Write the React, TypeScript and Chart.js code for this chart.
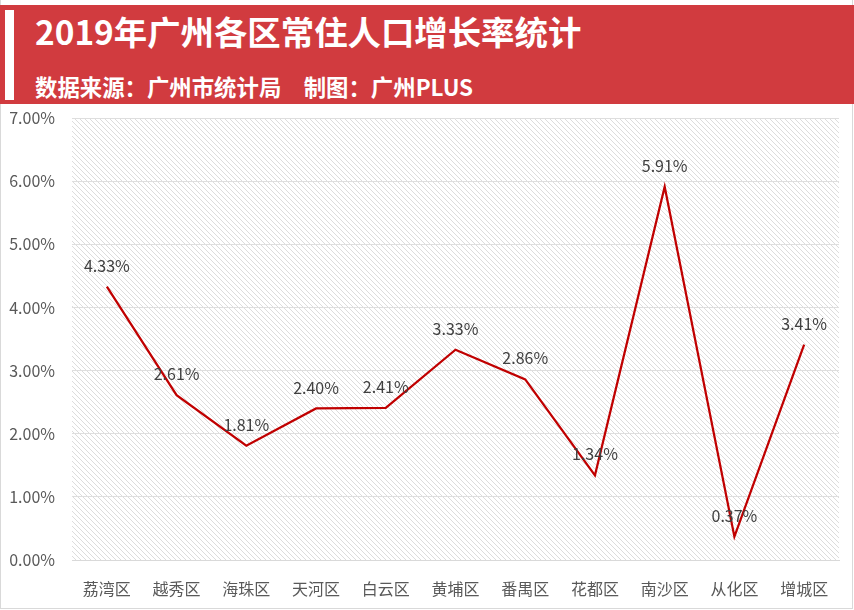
import React, { useEffect, useRef } from 'react';
import { Chart, registerables } from 'chart.js';

Chart.register(...registerables);

const districts = ['荔湾区', '越秀区', '海珠区', '天河区', '白云区', '黄埔区', '番禺区', '花都区', '南沙区', '从化区', '增城区'];
const growthRates = [4.33, 2.61, 1.81, 2.40, 2.41, 3.33, 2.86, 1.34, 5.91, 0.37, 3.41];
const yTickValues = [0, 1, 2, 3, 4, 5, 6, 7];
const titleText = '2019年广州各区常住人口增长率统计';
const subtitleText = '数据来源：广州市统计局　制图：广州PLUS';

const FONT = '"Noto Sans CJK SC", "Noto Sans", sans-serif';

const hatchPlugin = {
  id: 'hatchBg',
  beforeDraw(chart: any) {
    const { ctx, chartArea: a } = chart;
    const tile = document.createElement('canvas');
    tile.width = 5;
    tile.height = 5;
    const t = tile.getContext('2d')!;
    t.fillStyle = '#dcdcdc';
    for (let i = 0; i < 5; i++) t.fillRect(i, i, 1, 1);
    const pat = ctx.createPattern(tile, 'repeat');
    ctx.save();
    ctx.fillStyle = pat;
    ctx.fillRect(a.left, a.top, a.right - a.left, a.bottom - a.top);
    ctx.restore();
  },
};

const labelPlugin = {
  id: 'valueLabels',
  afterDatasetsDraw(chart: any) {
    const { ctx } = chart;
    const meta = chart.getDatasetMeta(0);
    ctx.save();
    ctx.font = `16px ${FONT}`;
    ctx.fillStyle = '#404040';
    ctx.textAlign = 'center';
    ctx.textBaseline = 'middle';
    meta.data.forEach((el: any, i: number) => {
      ctx.fillText(growthRates[i].toFixed(2) + '%', el.x, el.y - 21);
    });
    ctx.restore();
  },
};

export default function App() {
  const ref = useRef<HTMLCanvasElement>(null);

  useEffect(() => {
    const canvas = ref.current!;
    const chart = new Chart(canvas, {
      type: 'line',
      data: {
        labels: districts,
        datasets: [
          {
            data: growthRates,
            borderColor: '#C00000',
            borderWidth: 2.25,
            pointRadius: 0,
            tension: 0,
            fill: false,
          },
        ],
      },
      options: {
        animation: false,
        responsive: false,
        devicePixelRatio: 1,
        layout: { padding: { top: 14, right: 15, left: 0, bottom: 0 } },
        plugins: { legend: { display: false }, tooltip: { enabled: false } },
        scales: {
          x: {
            offset: true,
            grid: { display: false, drawTicks: false },
            border: { display: true, color: '#D9D9D9', width: 1 },
            ticks: { color: '#595959', font: { size: 16, family: FONT }, padding: 19, maxRotation: 0, autoSkip: false },
            afterFit: (s: any) => { s.height = 50; s.paddingLeft = 0; s.paddingRight = 0; },
          },
          y: {
            min: 0,
            max: 7,
            grid: { color: '#DEDEDE', lineWidth: 1, drawTicks: false },
            border: { display: false },
            ticks: {
              color: '#595959',
              font: { size: 16, family: FONT },
              padding: 17,
              callback: (v: any) => Number(v).toFixed(2) + '%',
            },
            afterBuildTicks: (s: any) => { s.ticks = yTickValues.map((v) => ({ value: v })); },
            afterFit: (s: any) => { s.width = 72; s.paddingTop = 0; s.paddingBottom = 0; },
          },
        },
      },
      plugins: [hatchPlugin, labelPlugin],
    });
    return () => chart.destroy();
  }, []);

  return (
    <div style={{ position: 'absolute', left: 0, top: 0, width: 854, height: 610, background: '#fff', overflow: 'hidden' }}>
      <div style={{ position: 'absolute', left: 0, top: 0, width: 853, height: 609, boxSizing: 'border-box', borderLeft: '1px solid #D9D9D9', borderRight: '1px solid #D9D9D9', borderBottom: '1px solid #D9D9D9' }} />
      <div style={{ position: 'absolute', left: 0, top: 5, width: 854, height: 99, background: '#D13B3F' }} />
      <div style={{ position: 'absolute', left: 5, top: 10, width: 9, height: 90, background: '#fff' }} />
      <div style={{ position: 'absolute', left: 35, top: 14, fontFamily: FONT, fontWeight: 700, fontSize: 33.4, lineHeight: '33px', color: '#fff', whiteSpace: 'nowrap' }}>{titleText}</div>
      <div style={{ position: 'absolute', left: 35, top: 75, fontFamily: FONT, fontWeight: 700, fontSize: 22.4, lineHeight: '22px', color: '#fff', whiteSpace: 'pre' }}>{subtitleText}</div>
      <canvas ref={ref} width={854} height={506} style={{ position: 'absolute', left: 0, top: 104, width: 854, height: 506 }} />
    </div>
  );
}
